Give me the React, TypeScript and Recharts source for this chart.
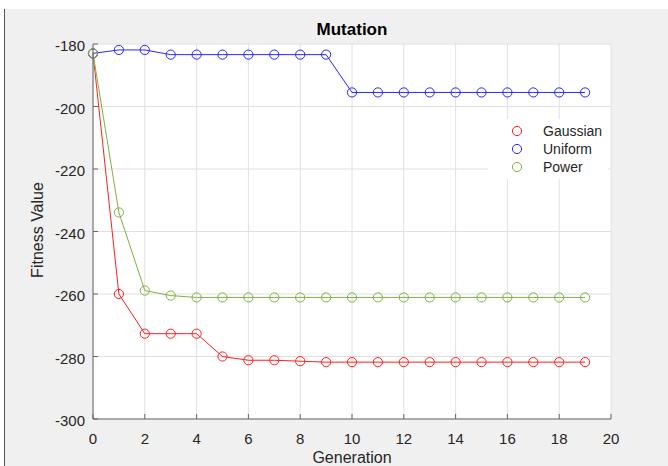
import { CartesianGrid, Line, LineChart, XAxis, YAxis } from "recharts";

// generation index 0..19
const generations = [0, 1, 2, 3, 4, 5, 6, 7, 8, 9, 10, 11, 12, 13, 14, 15, 16, 17, 18, 19];

const gaussian = [
  -183, -260, -272.7, -272.7, -272.7, -280, -281.2, -281.2, -281.5, -281.8,
  -281.8, -281.8, -281.8, -281.8, -281.8, -281.8, -281.8, -281.8, -281.8, -281.8,
];
const uniform = [
  -183, -181.9, -181.9, -183.4, -183.4, -183.4, -183.4, -183.4, -183.4, -183.4,
  -195.5, -195.5, -195.5, -195.5, -195.5, -195.5, -195.5, -195.5, -195.5, -195.5,
];
const power = [
  -183, -233.9, -258.9, -260.5, -261.1, -261.1, -261.1, -261.1, -261.1, -261.1,
  -261.1, -261.1, -261.1, -261.1, -261.1, -261.1, -261.1, -261.1, -261.1, -261.1,
];

const xTicks = [0, 2, 4, 6, 8, 10, 12, 14, 16, 18, 20];
const yTicks = [-300, -280, -260, -240, -220, -200, -180];

const series = [
  { key: "gaussian", name: "Gaussian", color: "#ff1f1f" },
  { key: "uniform", name: "Uniform", color: "#2727ff" },
  { key: "power", name: "Power", color: "#7db343" },
];

const data = generations.map((g, i) => ({
  gen: g,
  gaussian: gaussian[i],
  uniform: uniform[i],
  power: power[i],
}));

const FONT = '"Liberation Sans", Arial, Helvetica, sans-serif';
const AXIS = "#666";
const TEXT = "#262626";
const TICK_LEN = 5;

// MATLAB style: tick marks point into the plot box
const BottomTick = (props: any) => {
  const { x, y, payload } = props;
  const axisY = y - 14;
  return (
    <g>
      <line x1={x} y1={axisY} x2={x} y2={axisY - TICK_LEN} stroke={AXIS} />
      <text x={x} y={y} dy={11} textAnchor="middle" fontSize={15} fill={TEXT} fontFamily={FONT}>
        {payload.value}
      </text>
    </g>
  );
};

const LeftTick = (props: any) => {
  const { x, y, payload } = props;
  const axisX = x + 8;
  return (
    <g>
      <line x1={axisX} y1={y} x2={axisX + TICK_LEN} y2={y} stroke={AXIS} />
      <text x={x} y={y} dy={7} textAnchor="end" fontSize={15} fill={TEXT} fontFamily={FONT}>
        {payload.value}
      </text>
    </g>
  );
};

const TopTick = (props: any) => {
  const { x, y } = props;
  return <line x1={x} y1={y} x2={x} y2={y + TICK_LEN} stroke={AXIS} />;
};

const RightTick = (props: any) => {
  const { x, y } = props;
  return <line x1={x} y1={y} x2={x - TICK_LEN} y2={y} stroke={AXIS} />;
};

export default function App() {
  return (
    <div
      style={{
        position: "absolute",
        left: 0,
        top: 0,
        width: 668,
        height: 466,
        background: "#fff",
        fontFamily: FONT,
        overflow: "hidden",
      }}
    >
      {/* grey figure area */}
      <div
        style={{
          position: "absolute",
          left: 4,
          top: 9,
          right: 0,
          bottom: 0,
          background: "#f0f0f0",
          borderLeft: "1px solid #555",
        }}
      />
      <LineChart
        width={668}
        height={466}
        data={data}
        margin={{ top: 44, right: 57, bottom: 0, left: 0 }}
        style={{ position: "absolute", left: 0, top: 0 }}
      >
        <CartesianGrid stroke="#e0e0e0" fill="#fff" />
        <XAxis
          dataKey="gen"
          type="number"
          domain={[0, 20]}
          ticks={xTicks}
          height={47}
          stroke={AXIS}
          tickLine={false}
          tickSize={0}
          tickMargin={14}
          tick={<BottomTick />}
        />
        <XAxis
          xAxisId="top"
          orientation="top"
          dataKey="gen"
          type="number"
          domain={[0, 20]}
          ticks={xTicks}
          height={0}
          stroke={AXIS}
          tickLine={false}
          tickSize={0}
          tickMargin={0}
          tick={<TopTick />}
        />
        <YAxis
          type="number"
          domain={[-300, -180]}
          ticks={yTicks}
          width={93}
          stroke={AXIS}
          tickLine={false}
          tickSize={0}
          tickMargin={8}
          tick={<LeftTick />}
        />
        <YAxis
          yAxisId="right"
          orientation="right"
          type="number"
          domain={[-300, -180]}
          ticks={yTicks}
          width={0}
          stroke={AXIS}
          strokeWidth={1.5}
          tickLine={false}
          tickSize={0}
          tickMargin={0}
          tick={<RightTick />}
        />
        {series.map((s) => (
          <Line
            key={s.key}
            type="linear"
            dataKey={s.key}
            name={s.name}
            stroke={s.color}
            strokeWidth={1}
            dot={{ r: 4.6, fill: "none", stroke: s.color, strokeWidth: 1 }}
            activeDot={false}
            isAnimationActive={false}
          />
        ))}
      </LineChart>

      {/* title and axis labels */}
      <div
        style={{
          position: "absolute",
          left: 252,
          width: 200,
          top: 20,
          textAlign: "center",
          fontWeight: "bold",
          fontSize: 17,
          color: "#000",
        }}
      >
        Mutation
      </div>
      <div
        style={{
          position: "absolute",
          left: 252,
          width: 200,
          top: 449,
          textAlign: "center",
          fontSize: 16,
          color: TEXT,
        }}
      >
        Generation
      </div>
      <div
        style={{
          position: "absolute",
          left: 38,
          top: 230,
          transform: "translate(-50%, -50%) rotate(-90deg)",
          fontSize: 16,
          color: TEXT,
          whiteSpace: "nowrap",
        }}
      >
        Fitness Value
      </div>

      {/* legend */}
      <div
        style={{
          position: "absolute",
          left: 488,
          top: 119,
          width: 120,
          height: 60,
          background: "#fff",
        }}
      >
        {series.map((s, i) => (
          <div
            key={s.key}
            style={{
              position: "absolute",
              left: 0,
              top: 4 + i * 18,
              height: 16,
              display: "flex",
              alignItems: "center",
              fontSize: 14,
              color: TEXT,
            }}
          >
            <svg width={55} height={16}>
              <circle cx={29} cy={8} r={4.6} fill="none" stroke={s.color} strokeWidth={1} />
            </svg>
            <span>{s.name}</span>
          </div>
        ))}
      </div>
    </div>
  );
}
